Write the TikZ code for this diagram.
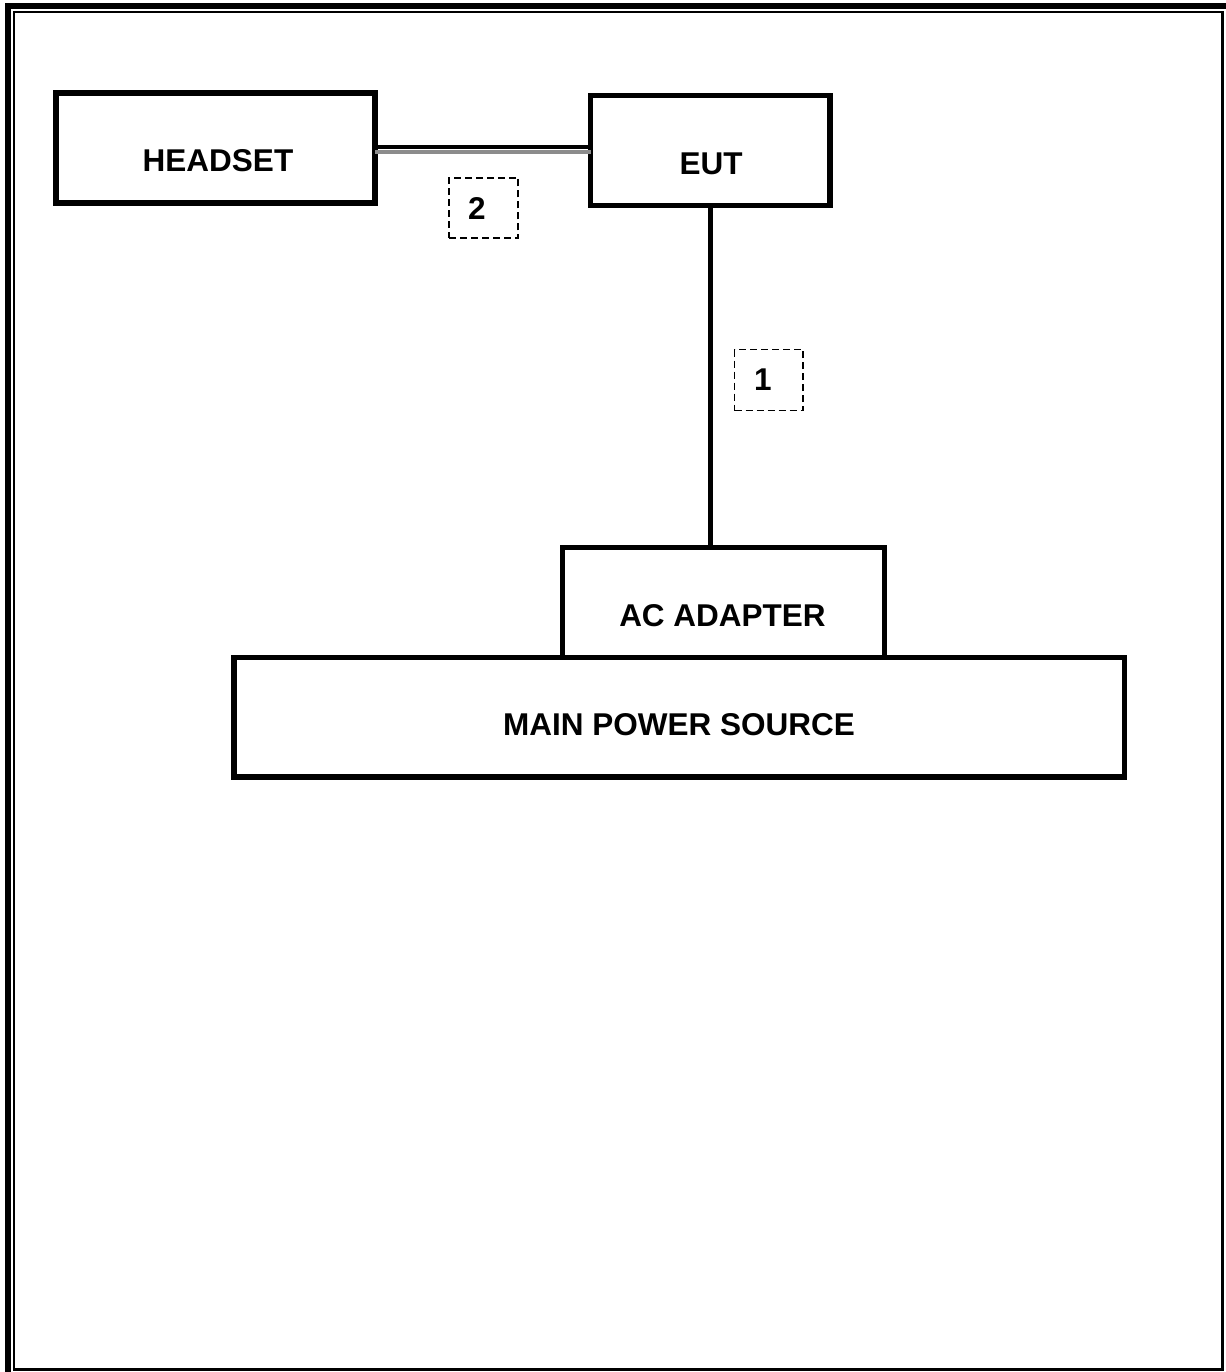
\documentclass[tikz,border=0pt]{standalone}
\usepackage{fontspec}
\setmainfont{Liberation Sans}
\begin{document}
\begin{tikzpicture}[x=0.5pt,y=-0.5pt,
  box/.style={draw=black, line width=2.6pt, fill=white, rectangle, inner sep=0pt, outer sep=0pt},
  dbox/.style={draw=black, line width=0.9pt, dash pattern=on 3.5pt off 2pt, rectangle, inner sep=0pt, outer sep=0pt},
  lbl/.style={inner sep=0pt, font=\fontsize{15.75}{19}\selectfont\bfseries},
  conn/.style={draw=black, line width=2.5pt},
  frame/.style={draw=black}]
\useasboundingbox (0,0) rectangle (1226,1372);
% outer frame
\draw[frame, line width=3pt] (8,1372) -- (8,6) -- (1226,6);
\draw[frame, line width=1.2pt] (14,12) rectangle (1222.5,1369.5);
% boxes
\node[box, minimum width=159.5pt, minimum height=55pt] (headset) at (215.5,148) {};
\node[box, minimum width=119.75pt, minimum height=55pt] (eut) at (710.25,150.5) {};
\node[box, minimum width=445.25pt, minimum height=59.75pt] (main) at (679.25,717.25) {};
\node[box, minimum width=161pt, minimum height=55pt] (ac) at (723.5,602.5) {};
\node[dbox, minimum width=34.5pt, minimum height=30.25pt] (c2) at (483.5,208) {};
\node[dbox, minimum width=34.25pt, minimum height=30.5pt] (c1) at (768.75,380) {};
% labels
\node[lbl] (tHeadset) at (218,161) {HEADSET};
\node[lbl] (tEut) at (711,164) {EUT};
\node[lbl] (tAc) at (722.5,615.5) {AC ADAPTER};
\node[lbl] (tMain) at (679,725) {MAIN POWER SOURCE};
\node[lbl] (t2) at (477,208) {2};
\node[lbl] (t1) at (763,380) {1};
% connectors
\draw[conn] (eut.south) -- (eut.south |- ac.north);
\draw[draw=black, line width=2pt] ([yshift=0.5pt]headset.east) -- ([yshift=0.5pt]headset.east -| eut.west);
\draw[draw=black!45, line width=2.25pt] ([yshift=-2pt]headset.east) -- ([yshift=-2pt]headset.east -| eut.west);
\end{tikzpicture}
\end{document}
